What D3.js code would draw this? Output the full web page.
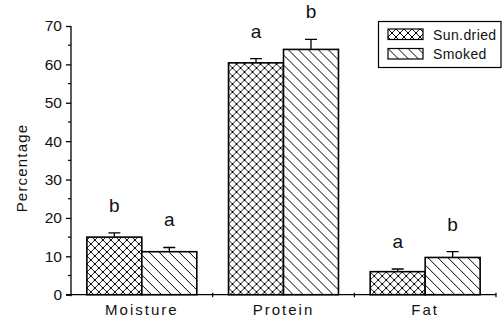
<!DOCTYPE html>
<html>
<head>
<meta charset="utf-8">
<script src="https://cdn.jsdelivr.net/npm/d3@7"></script>
<style>
  html, body { margin: 0; padding: 0; background: #fff; }
  svg { display: block; font-family: Arial, "Liberation Sans", sans-serif; }
</style>
</head>
<body>
<svg id="chart" width="502" height="322"></svg>
<script>
// Proximate composition of sun-dried vs smoked samples
const categories = ["Moisture", "Protein", "Fat"];
const seriesNames = ["Sun.dried", "Smoked"];
const sunDried = [15.0, 60.4, 6.0];
const smoked = [11.2, 63.9, 9.7];
const sunDriedErr = [1.1, 1.1, 0.7];
const smokedErr = [1.1, 2.6, 1.5];
const sunDriedLetters = ["b", "a", "a"];
const smokedLetters = ["a", "b", "b"];
const yTicks = [0, 10, 20, 30, 40, 50, 60, 70];

const rows = categories.map((c, i) => ({
  cat: c,
  bars: [
    { s: seriesNames[0], v: sunDried[i], e: sunDriedErr[i], l: sunDriedLetters[i] },
    { s: seriesNames[1], v: smoked[i], e: smokedErr[i], l: smokedLetters[i] }
  ]
}));

const svg = d3.select("#chart");
const plotLeft = 71, plotRight = 496, plotTop = 26, plotBottom = 294.7;

const y = d3.scaleLinear().domain([0, 70]).range([plotBottom, plotTop]);
const x0 = d3.scaleBand().domain(categories).range([plotLeft, plotRight])
  .paddingInner(0.224).paddingOuter(0.112);
const x1 = d3.scaleBand().domain(seriesNames).range([0, x0.bandwidth()]);

// Hatch fills
const defs = svg.append("defs");
const cross = defs.append("pattern").attr("id", "cross")
  .attr("patternUnits", "userSpaceOnUse").attr("width", 8).attr("height", 8);
cross.append("rect").attr("width", 8).attr("height", 8).attr("fill", "#fff");
cross.append("path").attr("d", "M0,0L8,8M8,0L0,8M-1,7L1,9M7,-1L9,1")
  .attr("stroke", "#000").attr("stroke-width", 0.9);
[[3, 3], [-1, -1], [7, 7], [7, -1], [-1, 7]].forEach(([px, py]) => {
  cross.append("rect").attr("x", px).attr("y", py).attr("width", 2).attr("height", 2).attr("fill", "#000");
});

const diag = defs.append("pattern").attr("id", "diag")
  .attr("patternUnits", "userSpaceOnUse").attr("width", 10).attr("height", 10);
diag.append("rect").attr("width", 10).attr("height", 10).attr("fill", "#fff");
diag.append("path").attr("d", "M0,0L10,10M-5,5L5,15M5,-5L15,5")
  .attr("stroke", "#000").attr("stroke-width", 1);

const fillFor = { "Sun.dried": "url(#cross)", "Smoked": "url(#diag)" };

// Bars, error bars and significance letters
const groups = svg.selectAll("g.grp").data(rows).join("g")
  .attr("class", "grp")
  .attr("transform", d => `translate(${x0(d.cat)},0)`);

groups.selectAll("rect.bar").data(d => d.bars).join("rect")
  .attr("class", "bar")
  .attr("x", d => x1(d.s))
  .attr("y", d => y(d.v))
  .attr("width", x1.bandwidth())
  .attr("height", d => y(0) - y(d.v))
  .attr("fill", d => fillFor[d.s])
  .attr("stroke", "#000").attr("stroke-width", 1.6);

groups.selectAll("path.err").data(d => d.bars).join("path")
  .attr("class", "err")
  .attr("d", d => {
    const cx = x1(d.s) + x1.bandwidth() / 2;
    return `M${cx},${y(d.v)}V${y(d.v + d.e)}M${cx - 6},${y(d.v + d.e)}H${cx + 6}`;
  })
  .attr("stroke", "#000").attr("stroke-width", 1.3).attr("fill", "none");

groups.selectAll("text.sig").data(d => d.bars).join("text")
  .attr("class", "sig")
  .attr("x", d => x1(d.s) + x1.bandwidth() / 2)
  .attr("y", d => y(d.v + d.e) - 21)
  .attr("text-anchor", "middle")
  .attr("font-size", 19)
  .attr("fill", "#111")
  .text(d => d.l);

// Y axis
const yAxis = svg.append("g").attr("transform", `translate(${plotLeft},0)`)
  .call(d3.axisLeft(y).tickValues(yTicks).tickSize(5).tickPadding(4));
yAxis.select(".domain").attr("d", `M0,${plotTop}V${plotBottom + 1.5}`).attr("stroke-width", 1.3);
yAxis.selectAll(".tick line").attr("stroke-width", 1.3);
yAxis.selectAll(".tick text").attr("font-size", 15.5).attr("fill", "#111")
  .style("font-family", "Arial, 'Liberation Sans', sans-serif");
const minor = d3.range(5, 70, 10);
yAxis.selectAll("line.minor").data(minor).join("line")
  .attr("class", "minor")
  .attr("x1", -3).attr("x2", 0)
  .attr("y1", d => y(d)).attr("y2", d => y(d))
  .attr("stroke", "#000").attr("stroke-width", 1.2);

// X axis with category labels and group boundary ticks
const xAxis = svg.append("g").attr("transform", `translate(0,${plotBottom})`)
  .call(d3.axisBottom(x0).tickSize(0).tickPadding(10));
xAxis.select(".domain").attr("d", `M${plotLeft - 5},0H${plotRight}`).attr("stroke-width", 1.3);
xAxis.selectAll(".tick text").attr("font-size", 15).attr("fill", "#111")
  .style("letter-spacing", "2px")
  .style("font-family", "Arial, 'Liberation Sans', sans-serif");
const step = x0.step();
const bounds = categories.map(c => x0(c) + x0.bandwidth() + step * x0.paddingInner() / 2);
xAxis.selectAll("line.bound").data(bounds).join("line")
  .attr("class", "bound")
  .attr("x1", d => d).attr("x2", d => d)
  .attr("y1", -2).attr("y2", 2.5)
  .attr("stroke", "#000").attr("stroke-width", 1.2);

// Y axis title
svg.append("text")
  .attr("transform", `translate(27,168) rotate(-90)`)
  .attr("text-anchor", "middle")
  .attr("font-size", 15)
  .style("letter-spacing", "1.2px")
  .attr("fill", "#111")
  .text("Percentage");

// Legend
const lg = svg.append("g");
lg.append("rect").attr("x", 378.5).attr("y", 21.5).attr("width", 122.5).attr("height", 46)
  .attr("fill", "#fff").attr("stroke", "#000").attr("stroke-width", 1.2);
const items = lg.selectAll("g.item").data(seriesNames).join("g")
  .attr("class", "item")
  .attr("transform", (d, i) => `translate(388,${29 + i * 19.5})`);
items.append("rect").attr("width", 35).attr("height", 10.5)
  .attr("fill", d => fillFor[d]).attr("stroke", "#000").attr("stroke-width", 1.2);
items.append("text").attr("x", 45).attr("y", 10.5)
  .attr("font-size", 14).attr("fill", "#111")
  .style("letter-spacing", "0.4px")
  .text(d => d);
</script>
</body>
</html>
